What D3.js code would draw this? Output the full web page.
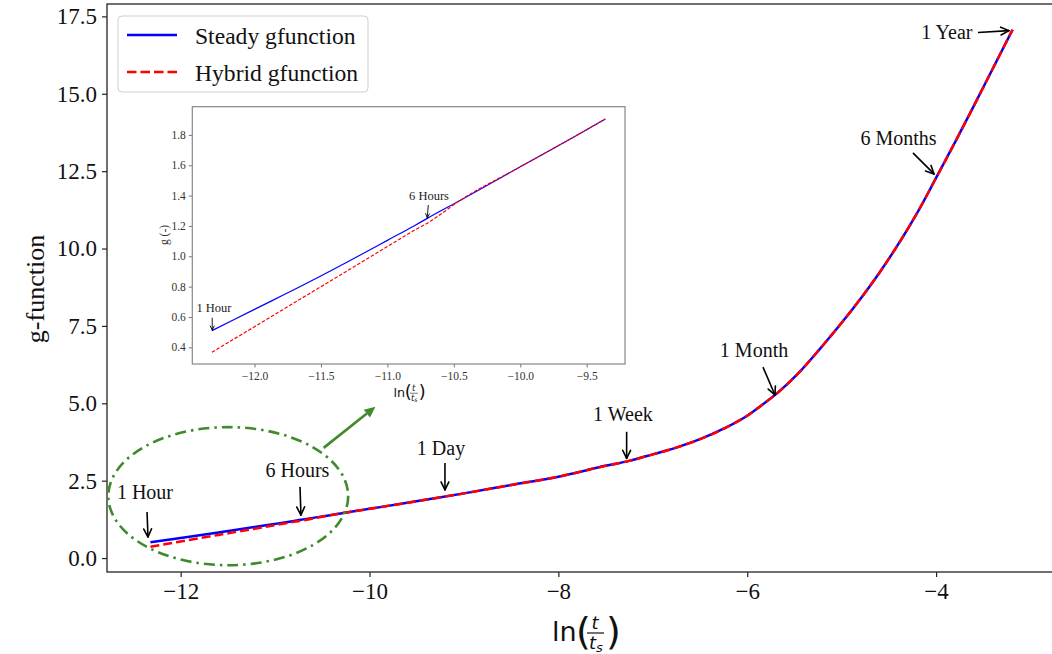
<!DOCTYPE html>
<html><head><meta charset="utf-8">
<script src="https://cdn.jsdelivr.net/npm/d3@7"></script>
<style>body{margin:0;background:#fff} svg{display:block}</style>
</head><body>
<svg id="c" width="1052" height="654"></svg>
<script>
// ---------- data ----------
const lnT    = [-12.32,-12.0,-11.6,-11.2,-11.0,-10.8,-10.7,-10.45,-10.0,-9.6,-9.36,-9.0,-8.5,-8.0,-7.5,-7.25,-7.0,-6.75,-6.5,-6.25,-6.0,-5.85,-5.67,-5.45,-5.23,-5.0,-4.8,-4.6,-4.4,-4.2,-4.0,-3.8,-3.6,-3.4,-3.19];
const steady = [0.51,0.65,0.825,1.01,1.105,1.20,1.25,1.37,1.59,1.785,1.905,2.09,2.36,2.63,2.98,3.14,3.35,3.57,3.84,4.18,4.60,4.93,5.36,6.00,6.76,7.60,8.38,9.22,10.14,11.15,12.28,13.43,14.61,15.81,17.07];
const hybrid = [0.367,0.536,0.747,0.958,1.064,1.17,1.218,1.37,1.59,1.785,1.905,2.09,2.36,2.63,2.98,3.14,3.35,3.57,3.84,4.18,4.60,4.93,5.36,6.00,6.76,7.60,8.38,9.22,10.14,11.15,12.28,13.43,14.61,15.81,17.07];
const seriesNames = ["Steady gfunction","Hybrid gfunction"];
const seriesColors = ["#0000ff","#ff0000"];
const xTicks = [-12,-10,-8,-6,-4];
const yTicks = [0,2.5,5,7.5,10,12.5,15,17.5];
const insetXTicks = [-12,-11.5,-11,-10.5,-10,-9.5];
const insetYTicks = [0.4,0.6,0.8,1.0,1.2,1.4,1.6,1.8];
const insetMaxLnT = -9.36;
// annotations: label, text anchor [x,y], arrow start, arrow tip (data coords)
const mainNotes = [
  {label:"1 Hour",   text:[-12.378,1.91], from:[-12.356,1.49], to:[-12.346,0.68]},
  {label:"6 Hours",  text:[-10.763,2.62], from:[-10.736,2.30], to:[-10.726,1.39]},
  {label:"1 Day",    text:[-9.243,3.33],  from:[-9.201,3.07],  to:[-9.201,2.20]},
  {label:"1 Week",   text:[-7.316,4.43],  from:[-7.277,4.08],  to:[-7.277,3.22]},
  {label:"1 Month",  text:[-5.928,6.50],  from:[-5.833,6.17],  to:[-5.706,5.27]},
  {label:"6 Months", text:[-4.398,13.35], from:[-4.245,13.09], to:[-4.022,12.41]},
  {label:"1 Year",   text:[-3.885,16.77], from:[-3.556,16.98], to:[-3.228,17.04]}
];
const insetNotes = [
  {label:"1 Hour",  text:[-12.305,0.635], from:[-12.318,0.595], to:[-12.318,0.514]},
  {label:"6 Hours", text:[-10.687,1.371], from:[-10.692,1.338], to:[-10.70,1.254]}
];
const zoomEllipse = {cx:-11.496, cy:2.0, rx:1.27, ry:2.23};
const zoomArrow = {from:[-10.486,3.56], to:[-9.937,4.89]};

// ---------- drawing ----------
const svg = d3.select("#c");
const serif = "'Liberation Serif','Times New Roman',serif";
const dejavu = "'DejaVu Sans',sans-serif";
const M = {l:107, r:1056, t:4, b:572};
const x = d3.scaleLinear().domain([-12.78,-2.73]).range([M.l,M.r]);
const y = d3.scaleLinear().domain([-0.45,17.9]).range([M.b,M.t]);
const pts = lnT.map((v,i)=>({v, s:steady[i], h:hybrid[i]}));

svg.append("defs").append("clipPath").attr("id","mainclip")
  .append("rect").attr("x",M.l).attr("y",M.t).attr("width",M.r-M.l).attr("height",M.b-M.t);

function arrow(g, x1,y1,x2,y2, head, w){
  const a = Math.atan2(y2-y1,x2-x1);
  g.append("line").attr("x1",x1).attr("y1",y1).attr("x2",x2).attr("y2",y2)
    .attr("stroke","#000").attr("stroke-width",w);
  [0.45,-0.45].forEach(d=>{
    g.append("line").attr("x1",x2).attr("y1",y2)
      .attr("x2",x2-head*Math.cos(a+d)).attr("y2",y2-head*Math.sin(a+d))
      .attr("stroke","#000").attr("stroke-width",w).attr("stroke-linecap","round");
  });
}

// lines
const plot = svg.append("g").attr("clip-path","url(#mainclip)");
const lineS = d3.line().x(d=>x(d.v)).y(d=>y(d.s)).curve(d3.curveMonotoneX);
const lineH = d3.line().x(d=>x(d.v)).y(d=>y(d.h)).curve(d3.curveMonotoneX);
plot.append("path").attr("d",lineS(pts)).attr("fill","none").attr("stroke",seriesColors[0]).attr("stroke-width",2.5);
plot.append("path").attr("d",lineH(pts)).attr("fill","none").attr("stroke",seriesColors[1]).attr("stroke-width",2.5).attr("stroke-dasharray","9,4");

// axes
const xAxis = svg.append("g").attr("transform",`translate(0,${M.b})`)
  .call(d3.axisBottom(x).tickValues(xTicks).tickSize(5).tickPadding(6).tickFormat(d=>String(d).replace("-","\u2212")));
const yAxis = svg.append("g").attr("transform",`translate(${M.l},0)`)
  .call(d3.axisLeft(y).tickValues(yTicks).tickSize(5).tickPadding(5).tickFormat(d3.format(".1f")));
[xAxis,yAxis].forEach(a=>{
  a.select(".domain").remove();
  a.selectAll(".tick line").attr("stroke","#222").attr("stroke-width",1.2);
  a.selectAll(".tick text").attr("font-family",serif).attr("font-size",23).attr("fill","#111");
});
// frame
svg.append("rect").attr("x",M.l).attr("y",M.t).attr("width",M.r-M.l).attr("height",M.b-M.t)
  .attr("fill","none").attr("stroke","#333").attr("stroke-width",1.4);

// y label
svg.append("text").attr("transform","translate(44,289) rotate(-90)").attr("text-anchor","middle")
  .attr("font-family",serif).attr("font-size",26).attr("fill","#111").text("g-function");
// x label ln(t/ts)
function lnLabel(g, cx, base, s){
  g.append("text").attr("x",cx-33*s).attr("y",base).attr("font-family",dejavu).attr("font-size",27*s).attr("fill","#111").text("ln");
  g.append("text").attr("x",cx-9*s).attr("y",base+3*s).attr("font-family",dejavu).attr("font-size",38*s).attr("fill","#111").text("(");
  g.append("text").attr("x",cx+10*s).attr("y",base-12*s).attr("text-anchor","middle").attr("font-family",dejavu).attr("font-style","italic").attr("font-size",18*s).attr("fill","#111").text("t");
  g.append("line").attr("x1",cx+2*s).attr("x2",cx+19*s).attr("y1",base-8*s).attr("y2",base-8*s).attr("stroke","#111").attr("stroke-width",1.2*s);
  const ts = g.append("text").attr("x",cx+4*s).attr("y",base+8*s).attr("font-family",dejavu).attr("font-style","italic").attr("font-size",18*s).attr("fill","#111");
  ts.append("tspan").text("t");
  ts.append("tspan").attr("font-size",13*s).attr("dy",3*s).text("s");
  g.append("text").attr("x",cx+21*s).attr("y",base+3*s).attr("font-family",dejavu).attr("font-size",38*s).attr("fill","#111").text(")");
}
lnLabel(svg, 585, 641, 1);

// annotations main
const ann = svg.append("g");
mainNotes.forEach(n=>{
  ann.append("text").attr("x",x(n.text[0])).attr("y",y(n.text[1])).attr("text-anchor","middle")
    .attr("font-family",serif).attr("font-size",20).attr("fill","#111").text(n.label);
  arrow(ann, x(n.from[0]),y(n.from[1]),x(n.to[0]),y(n.to[1]), 9, 1.6);
});

// zoom ellipse
svg.append("ellipse").attr("cx",x(zoomEllipse.cx)).attr("cy",y(zoomEllipse.cy))
  .attr("rx",x(zoomEllipse.cx+zoomEllipse.rx)-x(zoomEllipse.cx))
  .attr("ry",y(zoomEllipse.cy)-y(zoomEllipse.cy+zoomEllipse.ry))
  .attr("fill","none").attr("stroke","#3f8a2a").attr("stroke-width",2.6).attr("stroke-dasharray","11,5,2.5,5");
{
  const x1=x(zoomArrow.from[0]), y1=y(zoomArrow.from[1]), x2=x(zoomArrow.to[0]), y2=y(zoomArrow.to[1]);
  const a=Math.atan2(y2-y1,x2-x1), hl=11, hw=5;
  const bx=x2-hl*Math.cos(a), by=y2-hl*Math.sin(a);
  svg.append("line").attr("x1",x1).attr("y1",y1).attr("x2",bx).attr("y2",by).attr("stroke","#3f8a2a").attr("stroke-width",2.6);
  svg.append("path").attr("d",`M${x2},${y2}L${bx+hw*Math.sin(a)},${by-hw*Math.cos(a)}L${bx-hw*Math.sin(a)},${by+hw*Math.cos(a)}Z`).attr("fill","#3f8a2a");
}

// legend
const lg = svg.append("g");
lg.append("rect").attr("x",118).attr("y",16).attr("width",250).attr("height",76).attr("rx",4)
  .attr("fill","#fff").attr("fill-opacity",0.85).attr("stroke","#d0d0d0").attr("stroke-width",1);
seriesNames.forEach((nm,i)=>{
  const yy = 35 + i*37;
  lg.append("line").attr("x1",127).attr("x2",177).attr("y1",yy).attr("y2",yy)
    .attr("stroke",seriesColors[i]).attr("stroke-width",2.5).attr("stroke-dasharray",i?"9.5,4":null);
  lg.append("text").attr("x",195).attr("y",yy+9).attr("font-family",serif).attr("font-size",23.6).attr("fill","#111").text(nm);
});

// ---------- inset ----------
const I = {l:192.3, r:625, t:106.7, b:364};
const xi = d3.scaleLinear().domain([-12.468,-9.212]).range([I.l,I.r]);
const yi = d3.scaleLinear().domain([0.29,1.986]).range([I.b,I.t]);
const ins = svg.append("g");
ins.append("rect").attr("x",I.l).attr("y",I.t).attr("width",I.r-I.l).attr("height",I.b-I.t).attr("fill","#fff");
const ipts = pts.filter(d=>d.v<=insetMaxLnT);
ins.append("path").attr("d",d3.line().x(d=>xi(d.v)).y(d=>yi(d.s)).curve(d3.curveMonotoneX)(ipts))
  .attr("fill","none").attr("stroke",seriesColors[0]).attr("stroke-width",1.2);
ins.append("path").attr("d",d3.line().x(d=>xi(d.v)).y(d=>yi(d.h)).curve(d3.curveMonotoneX)(ipts))
  .attr("fill","none").attr("stroke",seriesColors[1]).attr("stroke-width",1.2).attr("stroke-dasharray","3.5,1.8");
const ixA = ins.append("g").attr("transform",`translate(0,${I.b})`)
  .call(d3.axisBottom(xi).tickValues(insetXTicks).tickSize(3.5).tickPadding(4).tickFormat(d=>d3.format(".1f")(d).replace("-","\u2212")));
const iyA = ins.append("g").attr("transform",`translate(${I.l},0)`)
  .call(d3.axisLeft(yi).tickValues(insetYTicks).tickSize(3.5).tickPadding(3).tickFormat(d3.format(".1f")));
[ixA,iyA].forEach(a=>{
  a.select(".domain").remove();
  a.selectAll(".tick line").attr("stroke","#555").attr("stroke-width",0.8);
  a.selectAll(".tick text").attr("font-family",serif).attr("font-size",11.5).attr("fill","#333");
});
ins.append("rect").attr("x",I.l).attr("y",I.t).attr("width",I.r-I.l).attr("height",I.b-I.t)
  .attr("fill","none").attr("stroke","#888").attr("stroke-width",1.2);
ins.append("text").attr("transform","translate(168,235) rotate(-90)").attr("text-anchor","middle")
  .attr("font-family",serif).attr("font-size",11.5).attr("fill","#333").text("g (-)");
lnLabel(ins, 409, 397, 0.47);
insetNotes.forEach(n=>{
  ins.append("text").attr("x",xi(n.text[0])).attr("y",yi(n.text[1])).attr("text-anchor","middle")
    .attr("font-family",serif).attr("font-size",12.5).attr("fill","#222").text(n.label);
  arrow(ins, xi(n.from[0]),yi(n.from[1]),xi(n.to[0]),yi(n.to[1]), 4.5, 0.9);
});
</script>
</body></html>
